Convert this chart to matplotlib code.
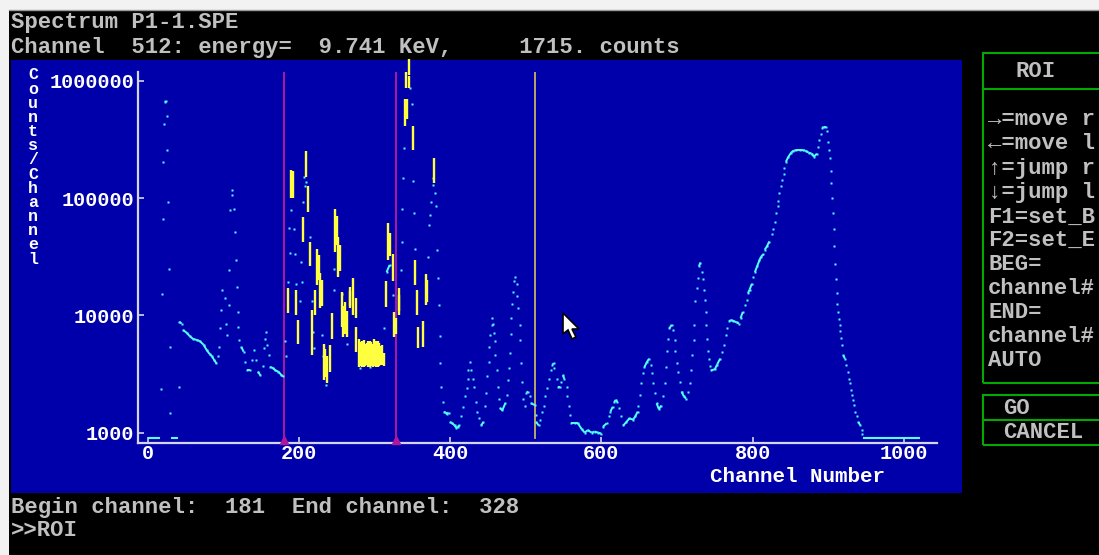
import numpy as np
import matplotlib
matplotlib.use('Agg')
import matplotlib.pyplot as plt
from matplotlib.patches import Rectangle, Polygon
from matplotlib.lines import Line2D
from matplotlib.collections import LineCollection
from matplotlib.ticker import NullLocator

# ---------------- data ----------------
dot_channels = [
    18, 19, 20, 21, 22, 23, 24, 25, 26, 27, 28, 29, 30,
    41, 42, 45, 47, 52, 56, 60, 65, 69, 74, 78, 82, 85, 88, 91, 93, 95, 96, 97, 99,
    102, 103, 105, 107, 108, 109, 111, 112, 114, 115, 117, 118, 119, 120, 121, 124,
    127, 129, 132, 135, 138, 141, 143, 146, 149, 152, 154, 155, 157, 158, 160, 162,
    166, 169, 173, 177, 179,
    182, 183, 185, 187, 188, 190, 194, 195, 196, 201, 203, 204, 206, 207, 208, 209,
    215, 217, 219, 220, 230, 232, 236, 246, 247, 257, 263, 281, 294, 313, 316, 320, 325,
    335, 336, 337, 338, 339, 347, 349, 351, 352, 354, 371, 372, 373, 375, 377, 378,
    380, 381, 383, 384, 385, 386, 387, 388, 390, 392, 394, 396, 398, 400, 403, 406,
    408, 410, 412, 414, 417, 420, 422, 423, 424, 426, 428, 430, 431, 434, 436, 438,
    441, 444, 446, 448, 449, 451, 452, 453, 455, 456, 457, 458, 459, 460, 462, 463,
    464, 466, 469, 473, 475, 477, 478, 479, 480, 481, 482, 483, 485, 486, 488, 489,
    490, 492, 493, 494, 495, 496, 499, 501, 503, 505, 507, 512, 513, 514, 517, 519,
    522, 524, 526, 528, 531, 533, 535, 537, 538, 541, 543, 545, 547, 549, 551, 554,
    555, 557, 558, 560, 565, 569, 574, 578, 582, 587, 591, 596, 600, 602, 607, 610,
    612, 615, 617, 619, 621, 623, 626, 629, 633, 637, 642, 645, 648, 649, 651, 653,
    655, 657, 660, 663, 665, 667, 668, 671, 673, 676, 679, 681, 684, 685, 687, 688,
    690, 693, 695, 697, 698, 700, 701, 704, 706, 709, 712, 715, 717, 719, 720, 722,
    723, 724, 726, 728, 729, 731, 733, 735, 736, 737, 738, 739, 740, 741, 742, 743,
    745, 750, 753, 757, 760, 762, 765, 766, 769, 771, 774, 779, 782, 784, 787, 790,
    792, 794, 796, 799, 801, 803, 806, 809, 811, 814, 816, 819, 822, 825, 827, 830,
    831, 833, 834, 835, 837, 839, 841, 842, 844, 847, 851, 854, 858, 863, 867, 870,
    874, 878, 881, 885, 887, 888, 890, 892, 894, 897, 898, 900, 901, 902, 903, 904,
    905, 906, 907, 908, 909, 910, 911, 912, 913, 914, 915, 916, 917, 918, 920, 922,
    924, 926, 927, 929, 930, 932, 933, 934, 936, 938, 940, 942, 944, 945,
]
dot_counts = [
    2340, 15100, 66000, 204000, 427000, 661000, 676000, 501000, 257000, 93300, 25100, 5370, 1460,
    2450, 8830, 8510, 7500, 7080, 6610, 6310, 6170, 6030, 5620, 5070, 4680, 4470, 4170, 3890, 4470, 5370, 7760, 11200, 16600,
    14100, 8510, 6760, 12300, 24500, 79400, 107000, 117000, 81300, 51300, 29500, 17600, 10700, 7940, 6170, 5370,
    4900, 4030, 3390, 3390, 4170, 5070, 4170, 3310, 3090, 3720, 5250, 6310, 7240, 5620, 4570, 3630,
    3550, 3390, 3310, 3090, 3020,
    6030, 4470, 19100, 56200, 33900, 79400, 55000, 33100, 18600, 13200, 28800, 19100, 93300, 151000, 126000, 138000,
    46800, 13200, 7240, 5250, 6760, 4470, 2570, 25100, 16600, 15100, 5750, 3550, 3630, 7760, 23400, 26900, 14800,
    24500, 42700, 81300, 148000, 269000, 871000, 631000, 141000, 74100, 37200, 31600, 58900, 72400, 93300, 148000, 129000,
    110000, 85100, 36300, 20900, 12300, 6610, 3890, 2450, 1820, 1510, 1480, 1450, 1480, 1230, 1200, 1150,
    1100, 1120, 1150, 1380, 1660, 2040, 2400, 2880, 3390, 3980, 3390, 2880, 2450, 1820, 1510, 1320,
    1150, 1230, 1700, 2190, 3020, 3980, 5370, 6760, 8320, 9550, 8510, 7080, 6030, 4570, 3390, 2450,
    1950, 1620, 1550, 1780, 2090, 2820, 3550, 4790, 6920, 9550, 12600, 15800, 19500, 21100, 18600, 14500,
    11500, 8320, 6170, 3890, 2690, 1950, 1700, 2190, 2240, 2040, 1780, 1715, 1410, 1230, 1150, 1290,
    1510, 1700, 2040, 2400, 2880, 3390, 3800, 3890, 3550, 2880, 2450, 2450, 2690, 3090, 2880, 2450,
    2040, 1700, 1410, 1200, 1200, 1200, 1070, 1000, 1050, 1000, 1020, 1000, 980, 1120, 1200, 1380,
    1510, 1660, 1820, 1900, 1820, 1620, 1380, 1150, 1230, 1320, 1290, 1380, 1510, 1700, 2090, 2630,
    3240, 3630, 3980, 4270, 3800, 3240, 2630, 2190, 1780, 1585, 1700, 2040, 2630, 3630, 5010, 6310,
    7760, 8320, 7500, 6170, 5010, 3890, 3310, 2690, 2240, 2040, 1950, 2240, 2630, 3390, 4570, 6170,
    8320, 13200, 17000, 20900, 26300, 28200, 23400, 20400, 16600, 13500, 10700, 8320, 6310, 5010, 4270, 3720,
    3390, 3470, 3800, 4270, 4900, 5620, 6760, 7760, 8910, 9120, 9020, 8710, 8510, 9440, 10700, 12300,
    13500, 15500, 16600, 18600, 21400, 23400, 26300, 29500, 31600, 33100, 36300, 38900, 42700, 49000, 55000, 63100,
    74100, 85100, 95500, 110000, 126000, 143000, 162000, 180000, 204000, 224000, 245000, 254000, 257000, 257000, 257000, 254000,
    245000, 240000, 226000, 240000, 275000, 316000, 355000, 398000, 407000, 407000, 372000, 302000, 257000, 219000, 172000, 135000,
    100000, 74100, 55000, 38900, 27500, 20400, 15500, 12600, 10700, 9330, 8220, 7410, 6460, 5620, 4570, 4270,
    3800, 3310, 2880, 2630, 2290, 2090, 1900, 1720, 1510, 1380, 1230, 1160, 1050, 980,
]
# channel ranges with zero counts (drawn on the floor of the log axis)
zero_ranges = [(0, 17), (31, 40), (946, 1021)]

# yellow (ROI-highlighted) vertical bars: channel, low count, high count
bar_channels = [185, 190, 192, 196, 199, 206, 210, 212, 215, 218, 221, 224, 226, 228, 230,
                233, 235, 237, 241, 244, 248, 250, 252, 255, 257, 259, 261, 263, 267, 268,
                272, 275, 276, 280, 282, 284, 286, 288, 290, 292, 294, 296, 298, 300, 302,
                304, 306, 308, 310, 312, 315, 318, 320, 324, 326, 328, 332, 333, 340, 342,
                343, 345, 346, 351, 354, 356, 358, 364, 368, 370, 379]
bar_low = [10500, 100000, 100000, 10000, 5750, 42700, 151000, 76700, 26300, 4570, 10000, 18200, 20000, 11500, 12000,
           2820, 3000, 2630, 3310, 6310, 34700, 40000, 21400, 24000, 8000, 6600, 7000, 6600, 11500, 12000,
           10000, 9500, 4900, 3600, 3700, 3650, 3600, 3700, 3750, 3600, 3650, 3700, 3600, 3700, 3650,
           3600, 3700, 3800, 3750, 3700, 11700, 29500, 32000, 19500, 6600, 7000, 10000, 11000, 417000, 871000,
           470000, 1120000, 871000, 257000, 18200, 10000, 5250, 5370, 12300, 13000, 135000]
bar_high = [17000, 174000, 170000, 16600, 9120, 69200, 251000, 126000, 42700, 11200, 16600, 37200, 33000, 22900, 20000,
            5750, 5200, 4470, 5620, 10500, 81300, 70000, 46800, 40000, 15800, 12000, 13000, 11000, 17400, 16000,
            20900, 14000, 7940, 6310, 5900, 6100, 6200, 5700, 5800, 6100, 6000, 5900, 5700, 6300, 6100,
            6000, 5800, 5500, 5600, 4800, 19500, 61700, 50000, 33100, 10700, 9500, 17000, 15000, 708000, 1200000,
            708000, 1550000, 1100000, 417000, 29500, 16600, 7940, 8910, 22400, 20000, 219000]

roi_begin, roi_end = 181, 328
cursor_channel = 512
x_ticks = [0, 200, 400, 600, 800, 1000]
y_ticks = [1000, 10000, 100000, 1000000]
y_tick_labels = ['1000', '10000', '100000', '1000000']

header_lines = ['Spectrum P1-1.SPE', 'Channel  512: energy=  9.741 KeV,     1715. counts']
footer_lines = ['Begin channel:  181  End channel:  328', '>>ROI']
menu_title = 'ROI'
menu_items = ['→=move r', '←=move l', '↑=jump r', '↓=jump l', 'F1=set_B', 'F2=set_E',
              'BEG=', 'channel#', 'END=', 'channel#', 'AUTO']
buttons = ['GO', 'CANCEL']

# ---------------- style ----------------
W, H = 1099, 555
MONO = ['Liberation Mono', 'DejaVu Sans Mono']
plt.rcParams['font.family'] = MONO
BLUE = '#0000AA'
CYAN = '#55FFFF'
YELLOW = '#FFFF40'
MAGENTA = '#B0189C'
AXIS = '#D4D4EC'
GRAY = '#C0C0C0'
GREEN = '#00AA00'
FLOOR = 904


def fx(px):
    return px / W


def fy(py):
    return 1 - py / H


fig = plt.figure(figsize=(W / 100, H / 100), dpi=100, facecolor='black')

# screenshot borders
fig.add_artist(Rectangle((0, fy(10)), 1, 10 / H, transform=fig.transFigure, fc='#F2F2F2', ec='none', zorder=0))
fig.add_artist(Rectangle((0, 0), 9 / W, 1, transform=fig.transFigure, fc='#F2F2F2', ec='none', zorder=0))
fig.add_artist(Line2D([fx(9), 1], [fy(10), fy(10)], transform=fig.transFigure, color='#9A9A9A', lw=1))
# blue plot panel
fig.add_artist(Rectangle((fx(11), fy(493)), (962 - 11) / W, (493 - 60) / H, transform=fig.transFigure,
                         fc=BLUE, ec='none', zorder=0))

ax_l, ax_r, ax_t, ax_b = 137.7, 937.0, 71.7, 442.7
ax = fig.add_axes([fx(ax_l), fy(ax_b), (ax_r - ax_l) / W, (ax_b - ax_t) / H])
ax.set_facecolor('none')
ax.set_yscale('log')
ax.set_xlim(-13.1, 1043.8)
ax.set_ylim(820, 1.2e6)
for s in ['top', 'right']:
    ax.spines[s].set_visible(False)
for s in ['left', 'bottom']:
    ax.spines[s].set_color(AXIS)
    ax.spines[s].set_linewidth(1.6)
ax.yaxis.set_minor_locator(NullLocator())
ax.set_xticks(x_ticks, labels=[str(t) for t in x_ticks])
ax.set_yticks(y_ticks, labels=y_tick_labels)
ax.tick_params(direction='in', length=4, width=1.2, color=AXIS, labelcolor='white',
               labelsize=14.5)
ax.tick_params(axis='x', pad=1.0)
ax.tick_params(axis='y', pad=2.5)
for lbl in ax.get_xticklabels() + ax.get_yticklabels():
    lbl.set_fontweight('bold')

ax.set_xlabel('Channel Number', color='white', fontsize=15, fontweight='bold')
ax.xaxis.set_label_coords((797 - ax_l) / (ax_r - ax_l), (ax_b - 477) / (ax_b - ax_t))
ax.xaxis.label.set_va('center')
ax.set_ylabel('\n'.join('Counts/Channel'), rotation=0, color='white', fontsize=12,
              fontweight='bold', linespacing=0.93, ha='center', va='center')
ax.yaxis.set_label_coords((33 - ax_l) / (ax_r - ax_l), (ax_b - 167) / (ax_b - ax_t))

# ROI markers and cursor
for c in (roi_begin, roi_end):
    ax.axvline(c, color=MAGENTA, lw=1.4, zorder=2)
ax.plot([roi_begin, roi_end], [0.008, 0.008], transform=ax.get_xaxis_transform(), ls='none',
        marker='^', ms=6, color=MAGENTA, mec=MAGENTA, clip_on=False, zorder=3)
ax.axvline(cursor_channel, ymin=0.012, ymax=1, color='#C8B464', lw=1.3, zorder=2)

# spectrum
ch = np.array(dot_channels, dtype=float)
cnt = np.array(dot_counts, dtype=float)
fig.canvas.draw()
pix = ax.transData.transform(np.column_stack([ch, cnt]))
dxp = np.diff(pix[:, 0])
dyp = np.abs(np.diff(pix[:, 1]))
join = (dxp <= 5.0) & (dyp <= 3.0 * dxp)
segs = [[(ch[i], cnt[i]), (ch[i + 1], cnt[i + 1])] for i in np.nonzero(join)[0]]
ax.add_collection(LineCollection(segs, colors=CYAN, linewidths=1.4, zorder=3))
ax.plot(ch, cnt, ls='none', marker='s', ms=1.9, mfc=CYAN, mec='none', zorder=3)
for a, b in zero_ranges:
    ax.hlines(FLOOR, a, b, color=CYAN, lw=1.5, zorder=3)
ax.vlines(bar_channels, bar_low, bar_high, color=YELLOW, lw=1.7, zorder=4, clip_on=False)

# mouse pointer
tip = (563, 313)
shape = [(0, 0), (0, 21), (5, 17), (9, 26), (13, 24), (9, 16), (16, 16)]
fig.add_artist(Polygon([(fx(tip[0] + dx), fy(tip[1] + dy)) for dx, dy in shape], closed=True,
                       transform=fig.transFigure, fc='white', ec='black', lw=1.2, zorder=10))

# header / footer text
TXT = dict(color=GRAY, fontsize=16, fontweight='bold', ha='left', va='baseline')
fig.text(fx(11), fy(28), header_lines[0], **TXT)
fig.text(fx(11), fy(53.5), header_lines[1], **TXT)
fig.text(fx(11), fy(512.5), footer_lines[0], **TXT)
fig.text(fx(11), fy(536.5), footer_lines[1], **TXT)

# right menu
def box(x0, y0, x1, y1):
    fig.add_artist(Rectangle((fx(x0), fy(y1)), (x1 - x0) / W, (y1 - y0) / H, transform=fig.transFigure,
                             fc='none', ec=GREEN, lw=1.5))

box(983, 53, 1110, 383)
fig.add_artist(Line2D([fx(983), 1], [fy(89), fy(89)], transform=fig.transFigure, color=GREEN, lw=1.5))
box(983, 395, 1110, 445)
fig.add_artist(Line2D([fx(983), 1], [fy(420), fy(420)], transform=fig.transFigure, color=GREEN, lw=1.5))
fig.text(fx(1036), fy(77), menu_title, color=GRAY, fontsize=16, fontweight='bold', ha='center', va='baseline')
item_y = [119, 143, 168, 192, 217, 240, 264, 288, 312, 336, 360]
for t, yy in zip(menu_items, item_y):
    fig.text(fx(988), fy(yy + 6.3), t, color=GRAY, fontsize=16, fontweight='bold', ha='left', va='baseline')
fig.text(fx(1003), fy(414), buttons[0], color=GRAY, fontsize=16, fontweight='bold', ha='left', va='baseline')
fig.text(fx(1003), fy(438), buttons[1], color=GRAY, fontsize=16, fontweight='bold', ha='left', va='baseline')

fig.savefig('out.png', dpi=100, facecolor='black')
